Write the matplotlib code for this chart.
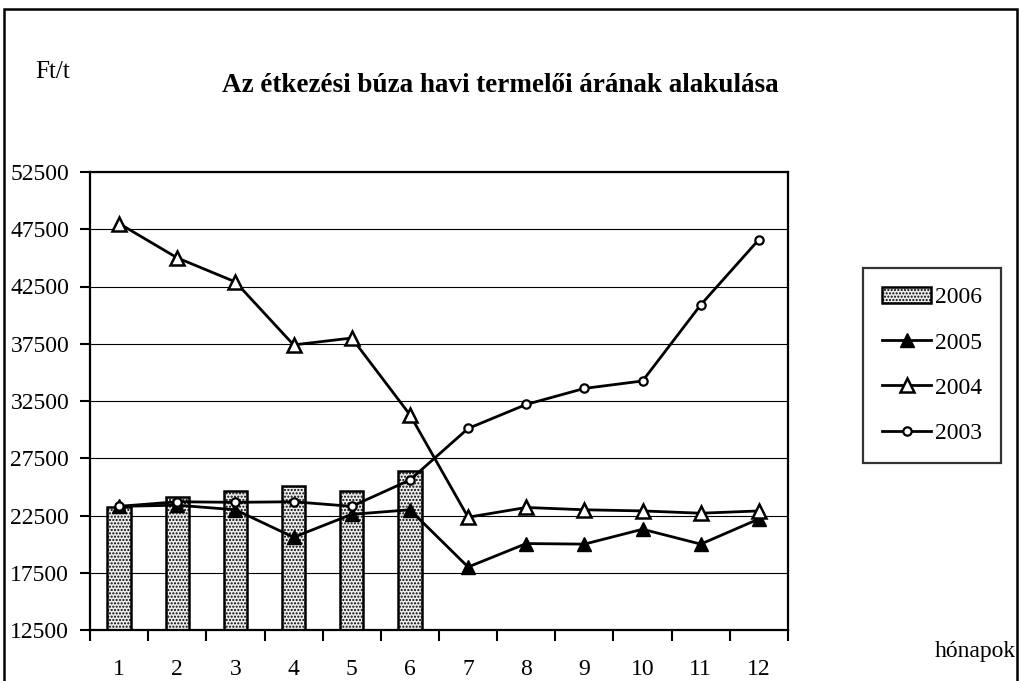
import matplotlib
matplotlib.use("Agg")
import numpy as np
import matplotlib.pyplot as plt
from matplotlib.patches import Rectangle

plt.rcParams['font.family'] = ['Liberation Serif', 'DejaVu Serif']
plt.rcParams['hatch.color'] = '#a0a0a0'

honap = list(range(1, 13))
ar_2006 = [23200, 24100, 24600, 25100, 24600, 26400]
ar_2005 = [23300, 23400, 23000, 20600, 22600, 23000,
           18000, 20050, 20000, 21300, 20000, 22200]
ar_2004 = [48000, 45000, 42900, 37400, 38000, 31300,
           22350, 23200, 23000, 22900, 22700, 22900]
ar_2003 = [23300, 23700, 23650, 23700, 23300, 25600,
           30100, 32200, 33600, 34250, 40900, 46600]
y_ticks = list(range(12500, 52501, 5000))

fig = plt.figure(figsize=(10.2, 6.81), dpi=100)
ax = fig.add_axes([90 / 1020, 51 / 681, 698 / 1020, 458 / 681])

bars = ax.bar(honap[:len(ar_2006)], [v - 12500 for v in ar_2006], bottom=12500,
              width=0.4, facecolor='#ececec', edgecolor='black', linewidth=1.8,
              hatch='.....', label='2006', zorder=2)

l05, = ax.plot(honap, ar_2005, color='black', lw=2, marker='^', ms=10,
               mfc='black', mec='black', label='2005', zorder=3)
l04, = ax.plot(honap, ar_2004, color='black', lw=2, marker='^', ms=10,
               mfc='white', mec='black', mew=1.8, label='2004', zorder=4)
l03, = ax.plot(honap, ar_2003, color='black', lw=2, marker='o', ms=6,
               mfc='white', mec='black', mew=1.6, label='2003', zorder=5)

ax.set_xlim(0.5, 12.5)
ax.set_ylim(12500, 52500)
ax.set_yticks(y_ticks)
ax.set_yticklabels([str(v) for v in y_ticks], fontsize=17)
ax.set_xticks(honap)
ax.set_xticklabels([str(m) for m in honap], fontsize=17)
ax.set_xticks(np.arange(0.5, 13, 1), minor=True)
ax.tick_params(axis='x', which='major', length=0, pad=21)
ax.tick_params(axis='x', which='minor', length=8, width=1.5, direction='out')
ax.tick_params(axis='y', length=7, width=1.5, direction='out', pad=8)
ax.grid(axis='y', color='black', linewidth=0.8, zorder=0)
ax.set_axisbelow(True)
for s in ax.spines.values():
    s.set_linewidth(1.6)

fig.text(500 / 1020, 1 - 86 / 681, 'Az étkezési búza havi termelői árának alakulása',
         ha='center', va='center', fontsize=19.5, fontweight='bold')
fig.text(35 / 1020, 1 - 72 / 681, 'Ft/t', ha='left', va='center', fontsize=18)
fig.text(935 / 1020, 1 - 652 / 681, 'hónapok', ha='left', va='center', fontsize=17)

leg = ax.legend([bars, l05, l04, l03], ['2006', '2005', '2004', '2003'],
                loc='upper left', bbox_to_anchor=(863 / 1020, 1 - 268 / 681),
                bbox_transform=fig.transFigure, fontsize=17, frameon=True,
                fancybox=False, edgecolor='black', labelspacing=1.0,
                handlelength=2.1, handletextpad=0.15, borderpad=0.8,
                borderaxespad=0)
leg.get_frame().set_linewidth(1.6)

fig.patches.append(Rectangle((4 / 1020, -0.05), 1013 / 1020, 1.05 - 9 / 681,
                             transform=fig.transFigure, fill=False,
                             edgecolor='black', linewidth=1.8))

fig.savefig('out.png', dpi=100)
